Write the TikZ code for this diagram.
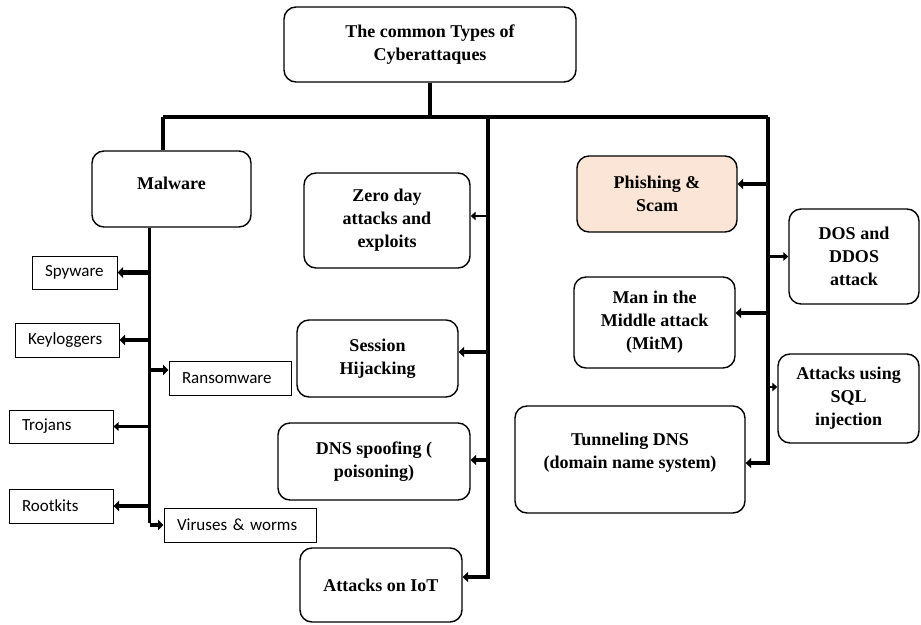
\documentclass[tikz,border=0pt]{standalone}
\usepackage{fontspec}
\setmainfont{Liberation Serif}
\newfontfamily\labfont{Carlito}
\usetikzlibrary{arrows.meta}
\definecolor{peach}{RGB}{251,229,214}
\begin{document}
\begin{tikzpicture}[x=1pt,y=-1pt,
  topic/.style={draw, line width=1.4pt, rounded corners=12pt, fill=white,
    align=center, inner sep=0pt, font=\fontsize{18}{23}\selectfont\bfseries},
  item/.style={draw, line width=1pt, fill=white, inner xsep=13pt, inner ysep=0pt,
    align=left, font=\labfont\fontsize{17}{20}\selectfont},
  bus/.style={line width=3.5pt},
  trunk/.style={line width=4pt},
  arr/.style={line width=4.5pt, -{Triangle[length=5.5pt,width=10.5pt]}},
  thinarr/.style={line width=2.6pt, -{Triangle[length=5pt,width=8.5pt]}},
]
\useasboundingbox (0,0) rectangle (921,624);

% root
\node[topic, minimum width=292pt, minimum height=75pt] (top) at (430,44.5)
  {The common Types of\\Cyberattaques};

% malware family
\node[topic, minimum width=159pt, minimum height=76pt, text depth=12pt] (mal) at (171.5,189) {Malware};
\node[item, text width=59pt, minimum height=33pt] (spy) at (74.5,272.5) {Spyware};
\node[item, text width=78pt, minimum height=34pt] (key) at (67,340) {Keyloggers};
\node[item, text width=96pt, minimum height=34pt] (ran) at (230,378) {Ransomware};
\node[item, text width=78pt, minimum height=33pt] (tro) at (61,426.5) {Trojans};
\node[item, text width=78pt, minimum height=34pt] (root) at (61,506) {Rootkits};
\node[item, text width=126pt, minimum height=34pt] (vir) at (240,525) {Viruses \& worms};

% middle column
\node[topic, minimum width=166pt, minimum height=95pt] (zero) at (387,220.5)
  {Zero day\\attacks and\\exploits};
\node[topic, minimum width=161pt, minimum height=77pt] (sess) at (377.5,358.5)
  {Session\\Hijacking};
\node[topic, minimum width=192pt, minimum height=77pt] (dns) at (374,461.5)
  {DNS spoofing (\\poisoning)};
\node[topic, minimum width=162pt, minimum height=74pt] (iot) at (381,585)
  {Attacks on IoT};

% right column
\node[topic, fill=peach, minimum width=160pt, minimum height=76pt] (phish) at (657,194)
  {Phishing \&\\Scam};
\node[topic, minimum width=130pt, minimum height=95pt] (dos) at (854,256.5)
  {DOS and\\DDOS\\attack};
\node[topic, minimum width=161pt, minimum height=91pt] (mitm) at (654.5,322.5)
  {Man in the\\Middle attack\\(MitM)};
\node[topic, minimum width=141pt, minimum height=89pt] (sql) at (848.5,398.5)
  {Attacks using\\SQL\\injection};
\node[topic, minimum width=230pt, minimum height=107pt] (tun) at (630,459.5)
  {Tunneling DNS\\(domain name system)\\[-6pt]};

% bus junctions
\coordinate (jT) at (430,117);
\coordinate (jL) at (163,117);
\coordinate (jM) at (488,117);
\coordinate (jR) at (768,117);
\coordinate (mB) at (149.5,523);

% entry points on the boxes
\coordinate (ranIn) at ([yshift=8pt]ran.west);
\coordinate (zeroIn) at ([yshift=4.5pt]zero.east);
\coordinate (sessIn) at ([yshift=6.5pt]sess.east);
\coordinate (dnsIn) at ([yshift=1.5pt]dns.east);
\coordinate (iotIn) at ([yshift=8pt]iot.east);
\coordinate (phishIn) at ([yshift=10pt]phish.east);
\coordinate (mitmIn) at ([yshift=9.5pt]mitm.east);
\coordinate (sqlIn) at ([yshift=11.5pt]sql.west);
\coordinate (tunIn) at ([yshift=-3.5pt]tun.east);

% main bus
\draw[bus] (top.south) -- (jT);
\draw[bus] (jL) -- (jR);
\draw[bus] (jL) -- (jL |- mal.north);

% malware branches
\draw[bus] (mal.south -| mB) -- (mB);
\draw[arr] (spy.east -| mB) -- (spy.east);
\draw[arr] (key.east -| mB) -- (key.east);
\draw[arr] (ranIn -| mB) -- (ranIn);
\draw[thinarr] (tro.east -| mB) -- (tro.east);
\draw[arr] (root.east -| mB) -- (root.east);
\draw[arr] (vir.west -| mB) -- (vir.west);

% middle branches
\draw[trunk] (jM) -- (jM |- iotIn);
\draw[arr] ([xshift=2pt]jM |- iotIn) -- (iotIn);
\draw[thinarr] (zeroIn -| jM) -- (zeroIn);
\draw[arr] (sessIn -| jM) -- (sessIn);
\draw[arr] (dnsIn -| jM) -- (dnsIn);

% right branches
\draw[bus] (jR) -- (jR |- tunIn);
\draw[arr] ([xshift=1.75pt]jR |- tunIn) -- (tunIn);
\draw[arr] (phishIn -| jR) -- (phishIn);
\draw[thinarr] (dos.west -| jR) -- (dos.west);
\draw[arr] (mitmIn -| jR) -- (mitmIn);
\draw[thinarr] (sqlIn -| jR) -- (sqlIn);
\end{tikzpicture}
\end{document}
